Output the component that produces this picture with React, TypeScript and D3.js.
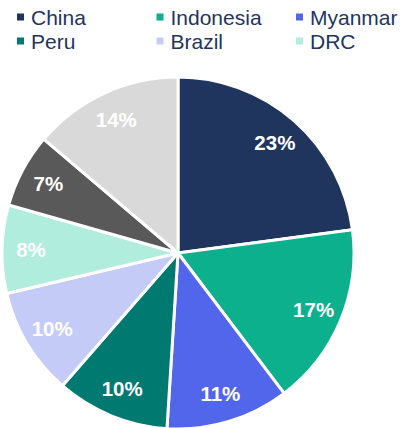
import React from "react";
import * as d3 from "d3";

const categories = ["China", "Indonesia", "Myanmar", "Peru", "Brazil", "DRC", "Other A", "Other B"];
const values = [22.9, 16.8, 11.3, 10.4, 9.9, 8.1, 6.8, 13.8];
const labels = ["23%", "17%", "11%", "10%", "10%", "8%", "7%", "14%"];
const colors = ["#1F355E", "#0DB08C", "#5166EA", "#007A70", "#C5CBF7", "#B1EDDC", "#595959", "#D9D9D9"];
const legendCount = 6;

export default function App() {
  const W = 402, H = 428;
  const cx = 178, cy = 253, R = 176;
  const pie = d3.pie<number>().sort(null).value((d) => d);
  const arcs = pie(values);
  const arc = d3.arc<d3.PieArcDatum<number>>().innerRadius(0).outerRadius(R);
  const labelArc = d3.arc<d3.PieArcDatum<number>>().innerRadius(147).outerRadius(147);
  const legX = d3.scalePoint<number>().domain([0, 1, 2]).range([17, 296]);
  const legY = d3.scalePoint<number>().domain([0, 1]).range([17, 41]);
  return (
    <svg width={W} height={H} style={{ position: "absolute", left: 0, top: 0 }}
      fontFamily="Arial, 'Liberation Sans', sans-serif">
      <g transform={`translate(${cx},${cy})`}>
        {arcs.map((a, i) => (
          <path key={i} d={arc(a) || ""} fill={colors[i]} stroke="#fff" strokeWidth={3} strokeLinejoin="round" />
        ))}
        {arcs.map((a, i) => {
          const [x, y] = labelArc.centroid(a);
          return (
            <text key={i} x={x} y={y} dy="0.36em" textAnchor="middle" fill="#fff"
              fontWeight="bold" fontSize={20.5}>{labels[i]}</text>
          );
        })}
      </g>
      {categories.slice(0, legendCount).map((c, i) => {
        const col = i % 3, row = Math.floor(i / 3);
        const x = legX(col)!, y = legY(row)!;
        return (
          <g key={c}>
            <rect x={x} y={y - 3.5} width={7} height={7} fill={colors[i]} />
            <text x={x + 14} y={y} dy="0.36em" fontSize={21} fill="#1F355E">{c}</text>
          </g>
        );
      })}
    </svg>
  );
}
